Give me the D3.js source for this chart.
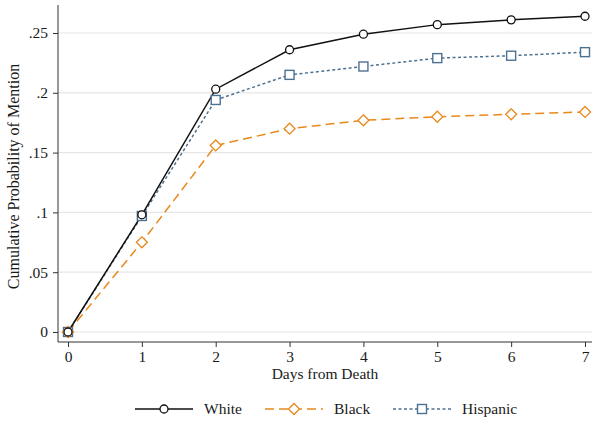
<!DOCTYPE html>
<html>
<head>
<meta charset="utf-8">
<script src="https://cdn.jsdelivr.net/npm/d3@7"></script>
<style>
  body { margin: 0; background: #fff; }
  text { font-family: "Liberation Serif", "DejaVu Serif", serif; fill: #1a1a1a; }
</style>
</head>
<body>
<div id="chart"></div>
<script>
// DATA //
const days = [0, 1, 2, 3, 4, 5, 6, 7];
const whiteValues = [0, 0.098, 0.203, 0.236, 0.249, 0.257, 0.261, 0.264];
const blackValues = [0, 0.075, 0.156, 0.170, 0.177, 0.180, 0.182, 0.184];
const hispanicValues = [0, 0.097, 0.194, 0.215, 0.222, 0.229, 0.231, 0.234];
const yTicks = [0, 0.05, 0.1, 0.15, 0.2, 0.25];
const yTickLabels = ["0", ".05", ".1", ".15", ".2", ".25"];

const series = [
  { name: "White", values: whiteValues, color: "#111111", dash: null, marker: "circle" },
  { name: "Black", values: blackValues, color: "#e8891c", dash: "9,5", marker: "diamond" },
  { name: "Hispanic", values: hispanicValues, color: "#4d7191", dash: "3,2.5", marker: "square" },
];

// DIMENSIONS //
const width = 594, height = 424;
const axisLeft = 58, axisRight = 592, axisTop = 5, axisBottom = 342;
const fontSize = "15.5px";

const svg = d3.select("#chart").append("svg")
  .attr("width", width).attr("height", height);

const x = d3.scaleLinear().domain([0, 7]).range([68, 585]);
const y = d3.scaleLinear().domain([0, 0.25]).range([332, 33]);

// Gridlines
svg.append("g").selectAll("line").data(yTicks).join("line")
  .attr("x1", axisLeft).attr("x2", axisRight)
  .attr("y1", (d) => y(d)).attr("y2", (d) => y(d))
  .attr("stroke", "#e6e6e6").attr("stroke-width", 1.2);

// Axes
const yAxis = d3.axisLeft(y).tickValues(yTicks)
  .tickFormat((d, i) => yTickLabels[i]).tickSize(5).tickPadding(5);
const gy = svg.append("g").attr("transform", `translate(${axisLeft},0)`).call(yAxis);
gy.select(".domain").remove();
gy.append("line").attr("x1", 0).attr("x2", 0).attr("y1", axisTop).attr("y2", axisBottom)
  .attr("stroke", "#333");

const xAxis = d3.axisBottom(x).tickValues(days).tickFormat(d3.format("d"))
  .tickSize(5).tickPadding(4);
const gx = svg.append("g").attr("transform", `translate(0,${axisBottom})`).call(xAxis);
gx.select(".domain").remove();
gx.append("line").attr("x1", axisLeft).attr("x2", axisRight).attr("y1", 0).attr("y2", 0)
  .attr("stroke", "#333");

[gx, gy].forEach((g) => {
  g.selectAll(".tick line").attr("stroke", "#333");
  g.selectAll(".tick text").style("font-family", '"Liberation Serif", serif')
    .style("font-size", fontSize).attr("fill", "#1a1a1a");
});

// Axis titles
svg.append("text").attr("x", (axisLeft + axisRight) / 2).attr("y", 379)
  .attr("text-anchor", "middle").style("font-size", fontSize).text("Days from Death");
svg.append("text").attr("transform", `translate(19,${(axisTop + axisBottom) / 2 + 3}) rotate(-90)`)
  .attr("text-anchor", "middle").style("font-size", "16px")
  .text("Cumulative Probability of Mention");

// Marker drawing
function drawMarker(g, type, cx, cy, color) {
  if (type === "circle") {
    g.append("circle").attr("cx", cx).attr("cy", cy).attr("r", 4)
      .attr("fill", "#fff").attr("stroke", color).attr("stroke-width", 1.3);
  } else if (type === "square") {
    g.append("rect").attr("x", cx - 4.5).attr("y", cy - 4.5).attr("width", 9).attr("height", 9)
      .attr("fill", "#fff").attr("stroke", color).attr("stroke-width", 1.4);
  } else {
    g.append("path").attr("d", `M${cx},${cy - 5.5}L${cx + 5.5},${cy}L${cx},${cy + 5.5}L${cx - 5.5},${cy}Z`)
      .attr("fill", "#fff").attr("stroke", color).attr("stroke-width", 1.3);
  }
}

// Lines (Hispanic first, White on top)
const line = d3.line().x((d, i) => x(days[i])).y((d) => y(d));
const plotOrder = [series[2], series[1], series[0]];
plotOrder.forEach((s) => {
  svg.append("path").datum(s.values).attr("d", line)
    .attr("fill", "none").attr("stroke", s.color).attr("stroke-width", 1.5)
    .attr("stroke-dasharray", s.dash);
});
plotOrder.forEach((s) => {
  const g = svg.append("g");
  s.values.forEach((v, i) => drawMarker(g, s.marker, x(days[i]), y(v), s.color));
});

// Legend
const legendX = [135, 265, 393];
const legendY = 409;
series.forEach((s, i) => {
  const g = svg.append("g");
  const x0 = legendX[i];
  g.append("line").attr("x1", x0).attr("x2", x0 + 58).attr("y1", legendY).attr("y2", legendY)
    .attr("stroke", s.color).attr("stroke-width", 1.5).attr("stroke-dasharray", s.dash);
  drawMarker(g, s.marker, x0 + 29, legendY, s.color);
  g.append("text").attr("x", x0 + 69).attr("y", legendY + 5)
    .style("font-size", fontSize).text(s.name);
});
</script>
</body>
</html>
